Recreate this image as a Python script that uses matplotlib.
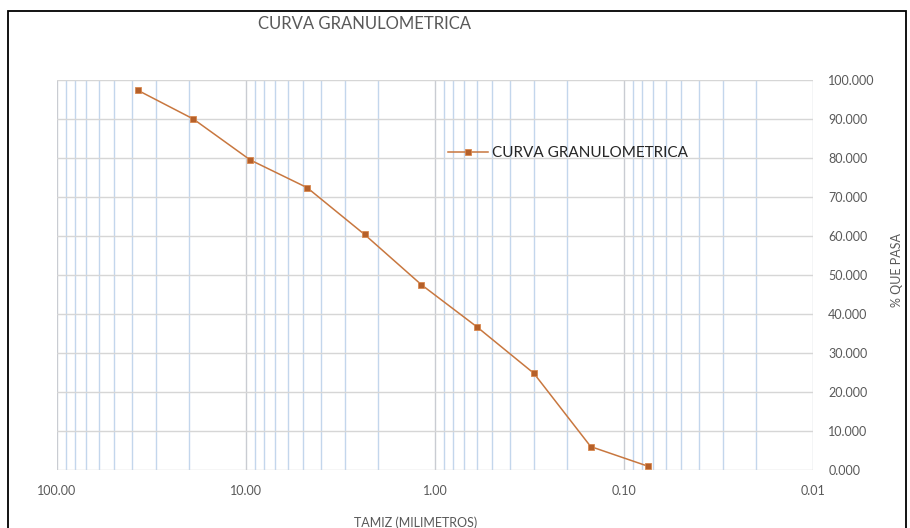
import matplotlib
matplotlib.use("Agg")
import matplotlib.pyplot as plt
from matplotlib.ticker import FixedLocator, FuncFormatter, LogLocator, NullFormatter
from matplotlib.patches import Rectangle

# Data
tamiz_mm = [37.5, 19.0, 9.5, 4.75, 2.36, 1.18, 0.60, 0.30, 0.15, 0.075]
pct_pasa = [97.4, 90.0, 79.5, 72.4, 60.4, 47.5, 36.7, 24.8, 6.0, 1.0]
x_ticks = [100, 10, 1, 0.1, 0.01]
y_ticks = [0, 10, 20, 30, 40, 50, 60, 70, 80, 90, 100]
title = "CURVA GRANULOMETRICA"
series_name = "CURVA GRANULOMETRICA"
x_label = "TAMIZ (MILIMETROS)"
y_label = "% QUE PASA"

plt.rcParams['font.family'] = ['Lato', 'DejaVu Sans']

W, H = 910, 528
fig = plt.figure(figsize=(W / 100, H / 100), dpi=100)
fig.patch.set_facecolor('white')

# outer chart frame
fig.patches.append(Rectangle((8 / W, -0.05), (906 - 8) / W, 1.05 - 11 / H,
                             transform=fig.transFigure, fill=False,
                             edgecolor='black', linewidth=1.3, zorder=0))

ax = fig.add_axes([57 / W, (H - 470) / H, (813 - 57) / W, 390 / H])
ax.set_xscale('log')
ax.set_xlim(100, 0.01)
ax.set_ylim(0, 100)

ax.plot(tamiz_mm, pct_pasa, color='#C8773F', linewidth=1.1, marker='s',
        markersize=3.8, markerfacecolor='#B5602A', markeredgecolor='#D9884E',
        markeredgewidth=0.6, label=series_name, zorder=3)

ax.xaxis.set_major_locator(FixedLocator(x_ticks))
ax.xaxis.set_major_formatter(FuncFormatter(lambda v, p: f"{v:.2f}"))
ax.xaxis.set_minor_locator(LogLocator(base=10, subs=range(2, 10)))
ax.xaxis.set_minor_formatter(NullFormatter())

ax.yaxis.set_major_locator(FixedLocator(y_ticks))
ax.yaxis.set_major_formatter(FuncFormatter(lambda v, p: f"{v:.3f}"))
ax.yaxis.tick_right()
ax.yaxis.set_label_position('right')

ax.grid(True, which='minor', axis='x', color='#C3D6EC', linewidth=1.0, zorder=0)
ax.grid(True, which='major', axis='x', color='#C9CCD2', linewidth=1.0, zorder=0)
ax.grid(True, which='major', axis='y', color='#D6D6D6', linewidth=1.0, zorder=0)
ax.set_axisbelow(True)

for s in ax.spines.values():
    s.set_visible(False)

ax.tick_params(axis='both', which='both', length=0, labelcolor='#595959', labelsize=9)
ax.tick_params(axis='x', pad=11)
ax.tick_params(axis='y', pad=11)

ax.set_ylabel(y_label, color='#595959', fontsize=9, rotation=90)
ax.yaxis.set_label_coords((891 - 57) / (813 - 57), 0.513)

fig.text(365 / W, 1 - 24 / H, title, ha='center', va='center',
         color='#595959', fontsize=12)
fig.text(416 / W, 1 - 516 / H, x_label, ha='center', va='top',
         color='#595959', fontsize=9)

leg = ax.legend(loc='center left', bbox_to_anchor=(448 / W, 1 - 153 / H),
                bbox_transform=fig.transFigure, frameon=False,
                fontsize=11, handlelength=2.6, handletextpad=0.3,
                borderpad=0, borderaxespad=0)
for t in leg.get_texts():
    t.set_color('#262626')

fig.savefig('out.png', dpi=100, facecolor='white')
